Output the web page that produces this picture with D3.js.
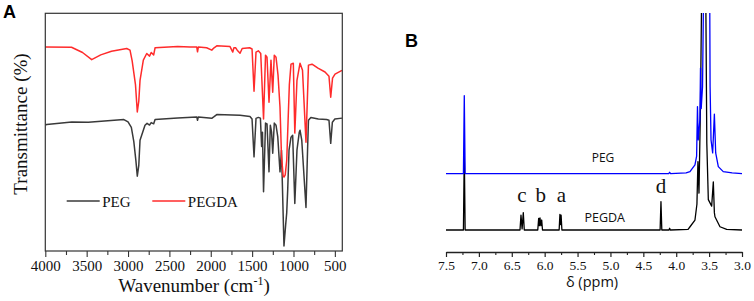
<!DOCTYPE html>
<html><head><meta charset="utf-8">
<script src="https://cdn.jsdelivr.net/npm/d3@7"></script>
<style>body{margin:0;background:#fff}svg{display:block}</style>
</head><body>
<svg id="c" width="754" height="301"></svg>
<script>
// ---------- Panel A: FTIR data (wavenumber cm-1, transmittance %) ----------
const irTicks = [4000,3500,3000,2500,2000,1500,1000,500];
const irMinorTicks = [3750,3250,2750,2250,1750,1250,750];
const pegW = [4000,3983,3680,3480,3050,3000,2960,2930,2905,2888,2870,2855,2795,2770,2740,2720,2690,2673,2400,2169,2160,2150,1988,1960,1927,1646,1526,1501,1477,1453,1425,1400,1385,1375,1362,1338,1320,1296,1280,1265,1251,1232,1211,1190,1163,1145,1115,1095,1082,1070,1054,1030,1010,984,958,930,921,900,849,830,819,790,700,600,571,550,530,500,414];
const pegT = [53.0,53.2,54.3,54.2,55.3,54.3,52,46,38,31.5,36,46.6,52.9,53.7,53,54,53.5,55.3,56,56.4,55,56.4,55.8,56.5,57.4,57.1,56.6,55.5,39.6,55.8,56.2,55.9,44,50,24.9,53.8,53.5,33.3,52.9,50,41.1,53.8,52.9,48,33.3,42.4,2.1,10.9,16,25.6,42.4,47.9,48.7,20,42.4,50,50.8,46.6,18.3,42.4,55,56.2,55.5,55.3,55,45.3,54.2,55.5,55.9];
const pegdaW = [4000,3683,3550,3439,3330,3200,3016,2976,2950,2910,2888,2870,2855,2815,2774,2740,2720,2690,2673,2400,2250,2169,2160,2150,2050,1988,1960,1927,1767,1734,1720,1700,1680,1646,1620,1530,1501,1477,1453,1425,1396,1362,1338,1320,1296,1272,1251,1232,1211,1187,1163,1145,1125,1115,1100,1082,1065,1050,1030,1002,984,958,921,891,849,819,776,704,619,571,550,528,498,414];
const pegdaT = [85.8,85.7,83.5,80.5,82.5,84,85.2,84.5,80,70,58.5,63,71.8,80.3,83.1,82,83.5,82.5,85.5,86,85.8,85.8,83.8,85.8,85.5,84.5,85.5,86.3,86,83.7,85.5,85.5,84.5,83.2,85.2,85.5,85,67.2,83.7,84.2,83.1,55.5,82.4,81.5,62.6,80.3,66.8,82.4,81.5,74,60.5,40,31.5,31.1,32,38,55,70,78.6,79,49.6,71.8,79,76,45.8,78.2,78.6,76.9,75.3,73.5,64.7,72.7,74.4,76];
const irSeries = ["PEG","PEGDA"];
const irColors = ["#3a3a3a","#ff2b2b"];

// ---------- Panel B: 1H NMR data (ppm, intensity) ----------
const nmrTicks = [7.5,7.0,6.5,6.0,5.5,5.0,4.5,4.0,3.5,3.0];
const nmrMinorTicks = [7.25,6.75,6.25,5.75,5.25,4.75,4.25,3.75,3.25];
const pegdaPpm = [7.5,7.235,7.222,7.209,6.375,6.360,6.343,6.325,6.31,6.105,6.091,6.081,6.071,6.058,6.045,6.033,5.78,5.768,5.759,5.750,5.738,4.245,4.232,4.219,4.11,4.10,4.09,3.82,3.79,3.715,3.685,3.670,3.654,3.63,3.60,3.56,3.535,3.512,3.461,3.436,3.42,3.411,3.335,3.233,3.0];
const pegdaInt = [0,0,36.1,0,0,6.9,0.5,8.0,0,0,5.4,2,5.6,2,4.6,0,0,7.2,2.5,6.8,0,0,13.1,0,0,0.8,0,0.3,1.5,4.6,12,31.5,17,60,150,150,40,14,11,22.2,8,6.1,1.5,0.3,0];
const pegPpm = [7.5,7.235,7.222,7.209,4.115,4.10,4.085,3.85,3.791,3.715,3.69,3.677,3.665,3.640,3.631,3.620,3.60,3.56,3.50,3.485,3.471,3.446,3.42,3.40,3.36,3.285,3.15,3.0];
const pegInt = [0,0,35.9,0,0,0.6,0,0.3,0.9,4,8,30.9,15.5,25,48.6,30,40,150,150,40,15.5,9.5,27.4,9.5,3.2,0.9,0.3,0];
const pegOffset = 26;
const peakLabels = ["c","b","a","d"];
const peakLabelPpm = [6.345,6.06,5.745,4.23];

const svg = d3.select("#c");
const serif = "'Liberation Serif','Times New Roman',serif";
const sans = "'Open Sans','Noto Sans',sans-serif";
const bold = "'Liberation Sans',Arial,sans-serif";

// ================= Panel A =================
const ax = d3.scaleLinear().domain([4000,410]).range([45.3,342.3]);
const ay = d3.scaleLinear().domain([0,100]).range([251,13.3]);
const gA = svg.append("g");
svg.append("defs").append("clipPath").attr("id","clipA").append("rect")
  .attr("x",45.3).attr("y",13.3).attr("width",297).attr("height",237.7);
const line = d3.line().x(d=>ax(d[0])).y(d=>ay(d[1]));
const irData = [d3.zip(pegW,pegT), d3.zip(pegdaW,pegdaT)];
gA.append("g").attr("clip-path","url(#clipA)").selectAll("path").data(irData).join("path")
  .attr("d",line).attr("fill","none").attr("stroke",(d,i)=>irColors[i])
  .attr("stroke-width",1.5).attr("stroke-linejoin","round");
gA.append("rect").attr("x",45.3).attr("y",13.3).attr("width",297).attr("height",237.7)
  .attr("fill","none").attr("stroke","#333").attr("stroke-width",1.2);
const xAxA = gA.append("g").attr("transform","translate(0,251)")
  .call(d3.axisBottom(ax).tickValues(irTicks).tickSize(6).tickPadding(3).tickFormat(d3.format("d")));
xAxA.select(".domain").remove();
xAxA.selectAll("line").attr("stroke","#333").attr("stroke-width",1.1);
xAxA.selectAll("text").attr("font-family",serif).attr("font-size",15).attr("fill","#111");
const xAxAm = gA.append("g").attr("transform","translate(0,251)")
  .call(d3.axisBottom(ax).tickValues(irMinorTicks).tickSize(4).tickFormat(""));
xAxAm.select(".domain").remove();
xAxAm.selectAll("line").attr("stroke","#333").attr("stroke-width",1.1);
gA.append("text").attr("transform","translate(27,124) rotate(-90)").attr("text-anchor","middle")
  .attr("font-family",serif).attr("font-size",19).attr("fill","#111").text("Transmittance (%)");
const wl = gA.append("text").attr("x",194).attr("y",292).attr("text-anchor","middle")
  .attr("font-family",serif).attr("font-size",19).attr("fill","#111");
wl.append("tspan").text("Wavenumber (cm");
wl.append("tspan").attr("dy",-7).attr("font-size",12).text("-1");
wl.append("tspan").attr("dy",7).text(")");
// legend
const legX = [66.7,152.3];
irSeries.forEach((s,i)=>{
  gA.append("line").attr("x1",legX[i]).attr("x2",legX[i]+33).attr("y1",201).attr("y2",201)
    .attr("stroke",irColors[i]).attr("stroke-width",1.6);
  gA.append("text").attr("x",legX[i]+35.5).attr("y",206.7).attr("font-family",serif)
    .attr("font-size",15).attr("fill","#111").text(s);
});
svg.append("text").attr("x",3).attr("y",18.3).attr("font-family",bold).attr("font-weight","bold")
  .attr("font-size",18).text("A");

// ================= Panel B =================
const bx = d3.scaleLinear().domain([7.5,3.0]).range([446,742]);
const by = d3.scaleLinear().domain([0,100]).range([230,13]);
svg.select("defs").append("clipPath").attr("id","clipB").append("rect")
  .attr("x",430).attr("y",13).attr("width",324).attr("height",240);
const gB = svg.append("g");
const nline = d3.line().x(d=>bx(d[0])).y(d=>by(d[1]));
const nmr = [
  {d:d3.zip(pegdaPpm,pegdaInt), c:"#000"},
  {d:d3.zip(pegPpm,pegInt.map(v=>v+pegOffset)), c:"#0000ff"}
];
gB.append("g").attr("clip-path","url(#clipB)").selectAll("path").data(nmr).join("path")
  .attr("d",d=>nline(d.d)).attr("fill","none").attr("stroke",d=>d.c).attr("stroke-width",1.3)
  .attr("stroke-linejoin","round");
const xAxB = gB.append("g").attr("transform","translate(0,252)")
  .call(d3.axisBottom(bx).tickValues(nmrTicks).tickSize(5).tickPadding(3).tickFormat(d3.format(".1f")).tickSizeOuter(0));
xAxB.select(".domain").attr("stroke","#222").attr("stroke-width",1.3);
xAxB.selectAll("line").attr("stroke","#222").attr("stroke-width",1.2);
xAxB.selectAll("text").attr("font-family",serif).attr("font-size",13.5).attr("fill","#111");
const xAxBm = gB.append("g").attr("transform","translate(0,252)")
  .call(d3.axisBottom(bx).tickValues(nmrMinorTicks).tickSize(3).tickFormat(""));
xAxBm.select(".domain").remove();
xAxBm.selectAll("line").attr("stroke","#222").attr("stroke-width",1.1);
gB.append("text").attr("x",592).attr("y",287).attr("text-anchor","middle").attr("font-family",sans)
  .attr("font-size",14.5).attr("fill","#111").text("δ (ppm)");
gB.append("text").attr("x",603).attr("y",161.7).attr("text-anchor","middle").attr("font-family",sans)
  .attr("font-size",12).attr("fill","#111").text("PEG");
gB.append("text").attr("x",604.7).attr("y",221.7).attr("text-anchor","middle").attr("font-family",sans)
  .attr("font-size",12.5).attr("fill","#111").text("PEGDA");
peakLabels.forEach((t,i)=>{
  gB.append("text").attr("x",bx(peakLabelPpm[i])).attr("y",t==="d"?193.3:201.7).attr("text-anchor","middle")
    .attr("font-family",serif).attr("font-size",21).attr("fill","#111").text(t);
});
svg.append("text").attr("x",405).attr("y",46.7).attr("font-family",bold).attr("font-weight","bold")
  .attr("font-size",18).text("B");
</script>
</body></html>
